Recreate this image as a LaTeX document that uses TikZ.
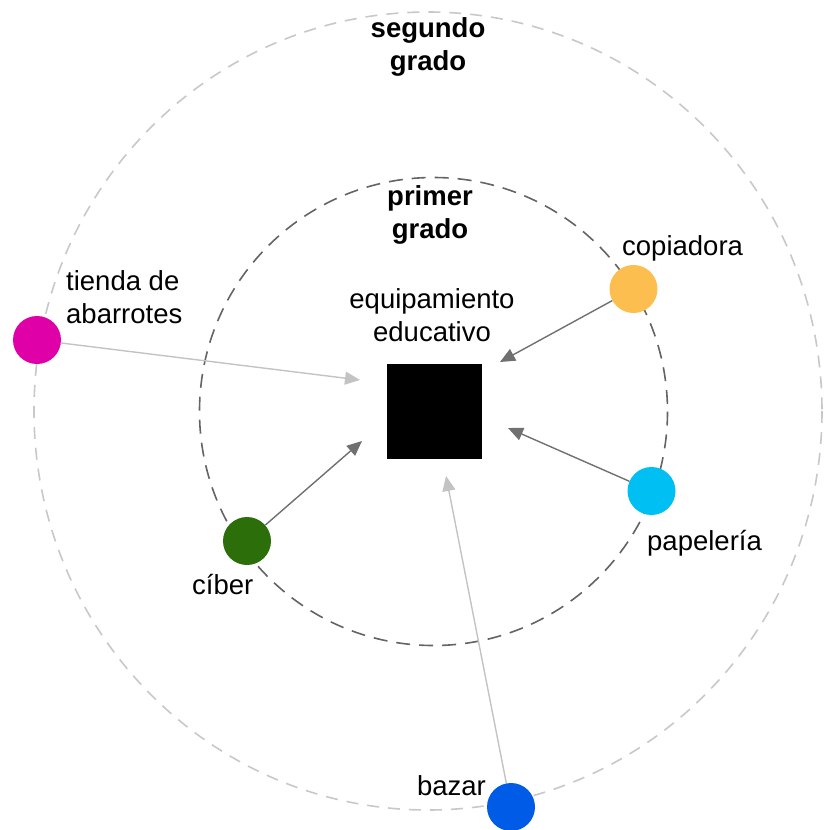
\documentclass[tikz,border=0pt]{standalone}
\usepackage{fontspec}
\setmainfont{Liberation Sans}
\usetikzlibrary{arrows.meta}
\definecolor{cmag}{RGB}{224,0,168}
\definecolor{corange}{RGB}{253,190,80}
\definecolor{ccyan}{RGB}{0,192,243}
\definecolor{cgreen}{RGB}{43,110,10}
\definecolor{cblue}{RGB}{0,92,230}
\definecolor{ringlight}{RGB}{200,200,200}
\definecolor{ringdark}{RGB}{100,100,100}
\definecolor{arrlight}{RGB}{195,195,195}
\definecolor{arrdark}{RGB}{112,112,112}
\tikzset{
  place/.style={circle,minimum size=48pt,inner sep=0pt,draw=none},
  lbl/.style={font=\fontsize{27.5}{33}\selectfont,inner sep=0pt},
  blbl/.style={font=\fontsize{27.5}{33}\selectfont\bfseries,inner sep=0pt,align=center},
  flowlight/.style={draw=arrlight,line width=1.4pt,-{Triangle[length=15pt,width=13pt]}},
  flowdark/.style={draw=arrdark,line width=1.4pt,-{Triangle[length=15pt,width=13pt]}},
}
\begin{document}
\begin{tikzpicture}[x=1pt,y=-1pt]
\useasboundingbox (0,0) rectangle (823,830);
% rings
\draw[ringlight,line width=1.6pt,dash pattern=on 12pt off 9pt] (428,411) ellipse [x radius=394, y radius=399];
\draw[ringdark,line width=1.6pt,dash pattern=on 14pt off 9pt] (433.5,411.5) circle [radius=234];
% ring labels
\node[blbl] (seg) at (428,46.5) {segundo\\grado};
\node[blbl] (pri) at (430,215) {primer\\grado};
% central facility
\node[fill=black,minimum size=95pt,inner sep=0pt] (eq) at (434.5,411.5) {};
\node[lbl,align=center] (eqlbl) at (432,315) {equipamiento\\educativo};
% places
\node[place,fill=cmag] (tienda) at (37,340) {};
\node[place,fill=corange] (copia) at (633.5,289) {};
\node[place,fill=ccyan] (papel) at (651.5,491) {};
\node[place,fill=cgreen] (ciber) at (247,541) {};
\node[place,fill=cblue] (bazar) at (511,807) {};
% labels
\node[lbl,align=left,anchor=west] (ltienda) at (66,297.5) {tienda de\\abarrotes};
\node[lbl,anchor=base west] (lcopia) at (622,255) {copiadora};
\node[lbl,anchor=base west] (lpapel) at (647,550) {papelería};
\node[lbl,anchor=base west] (lciber) at (192,594) {cíber};
\node[lbl,anchor=base east] (lbazar) at (486,795) {bazar};
% arrow targets
\coordinate (t1) at (360,380);
\coordinate (t2) at (500,362);
\coordinate (t3) at (508,428);
\coordinate (t4) at (362,441);
\coordinate (t5) at (446,476);
% connectors
\draw[flowlight] (tienda) -- (t1);
\draw[flowdark] (copia) -- (t2);
\draw[flowdark] (papel) -- (t3);
\draw[flowdark] (ciber) -- (t4);
\draw[flowlight] (bazar) -- (t5);
\end{tikzpicture}
\end{document}
